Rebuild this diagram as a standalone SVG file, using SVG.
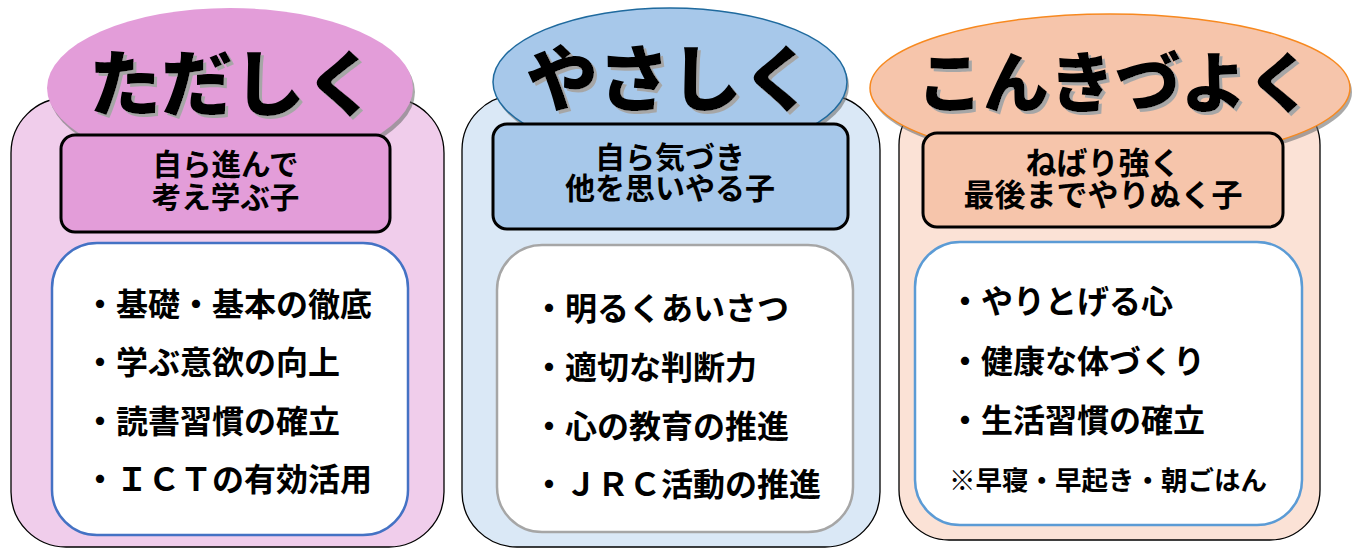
<svg xmlns="http://www.w3.org/2000/svg" width="1360" height="548" viewBox="0 0 1360 548">
<defs>
<filter id="tshadow" x="-10%" y="-20%" width="120%" height="150%">
  <feDropShadow dx="3" dy="3" stdDeviation="0.4" flood-color="#A6A6A6" flood-opacity="1"/>
</filter>
</defs>
<style>
text { font-family: "Noto Sans CJK JP", "Noto Sans", sans-serif; font-weight: 700; fill: #000; }
.title { font-size: 72px; font-weight: 900; text-anchor: middle; filter: url(#tshadow); }
.sub { font-size: 30px; text-anchor: middle; }
.item { font-size: 32px; }
.note { font-size: 26.5px; }
.outer { stroke: #000; stroke-width: 1.3; }
.eshadow { fill: #6f6f6f; opacity: 0.6; }
.subbox { stroke: #000; stroke-width: 3; }
.inner { fill: #fff; stroke-width: 2.5; }
</style>
<rect width="1360" height="548" fill="#fff"/>
<g id="connectors"/>

<g id="tadashiku">
  <rect class="outer" x="11" y="98" width="433" height="449" rx="55" fill="#F0CDEB"/>
  <ellipse class="eshadow" cx="232" cy="92" rx="183" ry="80"/>
  <ellipse cx="230" cy="88" rx="183" ry="80" fill="#E39DD9"/>
  <text class="title" x="233" y="110">ただしく</text>
  <rect class="subbox" x="61" y="135" width="329" height="97" rx="14" fill="#E39DD9"/>
  <text class="sub" style="font-size:29.5px"><tspan x="225.5" y="175">自ら進んで</tspan><tspan x="225.5" y="208">考え学ぶ子</tspan></text>
  <rect class="inner" x="52" y="243" width="356" height="292" rx="45" stroke="#4472C4"/>
  <text class="item" x="84" y="316">・基礎・基本の徹底</text>
  <text class="item" x="84" y="374">・学ぶ意欲の向上</text>
  <text class="item" x="84" y="433">・読書習慣の確立</text>
  <text class="item" x="84" y="491">・ＩＣＴの有効活用</text>
</g>

<g id="yasashiku">
  <rect class="outer" x="462" y="95" width="418" height="452" rx="55" fill="#DAE8F6"/>
  <ellipse class="eshadow" cx="672" cy="86" rx="177" ry="74"/>
  <ellipse cx="670" cy="82" rx="177" ry="74" fill="#A7C8EA" stroke="#1F6A9E" stroke-width="1.5"/>
  <text class="title" x="670" y="105">やさしく</text>
  <rect class="subbox" x="493" y="124" width="355" height="105" rx="14" fill="#A7C8EA"/>
  <text class="sub"><tspan x="670" y="168">自ら気づき</tspan><tspan x="670" y="199">他を思いやる子</tspan></text>
  <rect class="inner" x="497" y="245" width="356" height="287" rx="45" stroke="#A6A6A6"/>
  <text class="item" x="533" y="320">・明るくあいさつ</text>
  <text class="item" x="533" y="379">・適切な判断力</text>
  <text class="item" x="533" y="438">・心の教育の推進</text>
  <text class="item" x="533" y="496">・ＪＲＣ活動の推進</text>
</g>

<g id="konkizuyoku">
  <rect class="outer" x="899" y="95" width="421" height="445" rx="50" fill="#FBE2D6"/>
  <ellipse class="eshadow" cx="1112" cy="92" rx="240" ry="74"/>
  <ellipse cx="1110" cy="88" rx="240" ry="74" fill="#F6C5AB" stroke="#F7891F" stroke-width="1.5"/>
  <text class="title" x="1115" y="107" style="font-size:66px">こんきづよく</text>
  <rect class="subbox" x="923" y="133" width="360" height="94" rx="14" fill="#F6C5AB"/>
  <text class="sub" style="font-size:31px"><tspan x="1103" y="174">ねばり強く</tspan><tspan x="1103" y="206">最後までやりぬく子</tspan></text>
  <rect class="inner" x="915" y="242" width="387" height="283" rx="45" stroke="#5B9BD5"/>
  <text class="item" x="949" y="313">・やりとげる心</text>
  <text class="item" x="949" y="373">・健康な体づくり</text>
  <text class="item" x="949" y="432">・生活習慣の確立</text>
  <text class="note" x="949" y="490">※早寝・早起き・朝ごはん</text>
</g>
</svg>
